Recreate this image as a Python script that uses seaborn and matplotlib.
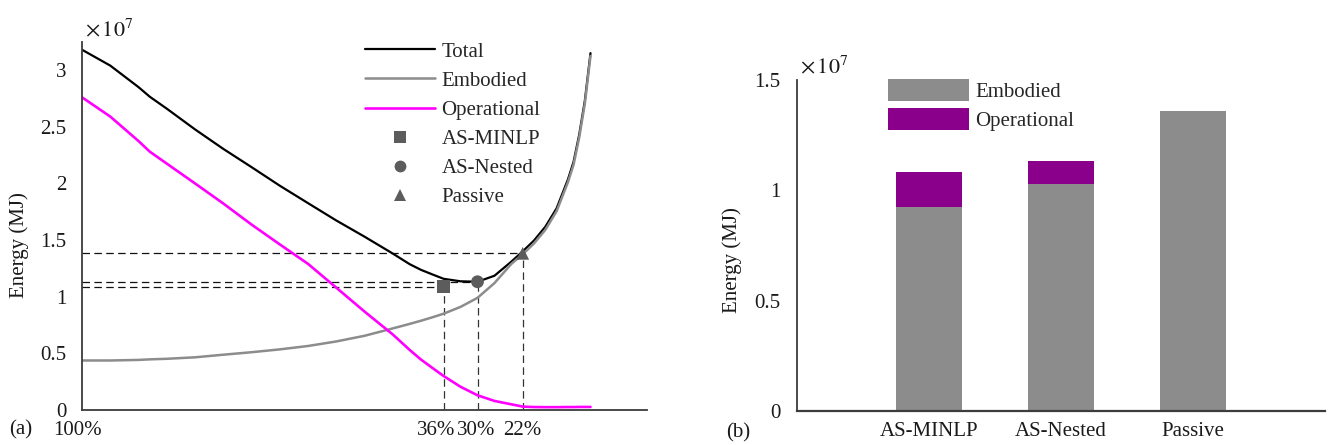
import matplotlib
matplotlib.use("Agg")
import numpy as np
import pandas as pd
import matplotlib.pyplot as plt
import matplotlib.transforms as mtransforms
import seaborn as sns
from matplotlib.lines import Line2D
from matplotlib.patches import Patch
from matplotlib.ticker import FuncFormatter

# ---- data (energy in units of 1e7 MJ) ----
window_pct = [100, 95, 90, 88, 85, 80, 75, 70, 65, 60, 55, 50, 45, 42, 40,
              38, 36, 33, 30, 27, 24, 22, 20, 18, 16, 14, 13, 12, 11, 10]
total_energy = [3.18, 3.04, 2.85, 2.765, 2.66, 2.477, 2.305, 2.144, 1.98,
                1.826, 1.673, 1.53, 1.381, 1.287, 1.237, 1.197, 1.158, 1.136,
                1.132, 1.185, 1.31, 1.40, 1.496, 1.617, 1.78, 2.034, 2.19,
                2.43, 2.73, 3.15]
embodied_energy = [0.437, 0.437, 0.442, 0.447, 0.452, 0.465, 0.488, 0.51,
                   0.535, 0.565, 0.605, 0.655, 0.72, 0.76, 0.788, 0.818, 0.85,
                   0.91, 0.99, 1.12, 1.29, 1.375, 1.47, 1.59, 1.755, 2.01,
                   2.165, 2.405, 2.705, 3.125]
operational_energy = [2.76, 2.59, 2.374, 2.28, 2.175, 2.0, 1.823, 1.637,
                      1.462, 1.29, 1.08, 0.869, 0.667, 0.53, 0.445, 0.372,
                      0.30, 0.205, 0.13, 0.08, 0.05, 0.03, 0.026, 0.025,
                      0.025, 0.026, 0.026, 0.027, 0.027, 0.027]

methods = ["AS-MINLP", "AS-Nested", "Passive"]
method_pct = [36, 30, 22]
method_energy = [1.088, 1.132, 1.383]
method_markers = ["s", "o", "^"]

x_ticks = [100, 36, 30, 22]
x_tick_labels = ["100%", "36%", "30%", "22%"]

bar_embodied = [0.926, 1.027, 1.359]
bar_operational = [0.156, 0.107, 0.0]

# ---- style ----
sns.set_style("white")
plt.rcParams["font.family"] = ["Liberation Serif", "DejaVu Serif"]
plt.rcParams["mathtext.fontset"] = "stix"
FS = 15
TXT = "#1a1a1a"
AXC = "#3c3c3c"
C_TOTAL, C_EMB, C_OP = "black", "#8c8c8c", "#ff00ff"
C_MARK = "#5c5c5c"
C_BAR_EMB, C_BAR_OP = "#8c8c8c", "#8b008b"

W, H = 1328, 445
fig = plt.figure(figsize=(W / 100, H / 100), dpi=100)

fmt = FuncFormatter(lambda v, p: f"{v:g}")


def style_axes(ax, ypad):
    for s in ("top", "right"):
        ax.spines[s].set_visible(False)
    for s in ("left", "bottom"):
        ax.spines[s].set_color(AXC)
        ax.spines[s].set_linewidth(1.3)
    ax.tick_params(axis="both", direction="in", length=4, width=1,
                   color=AXC, labelsize=FS, labelcolor=TXT)
    ax.tick_params(axis="y", pad=ypad)
    ax.tick_params(axis="x", pad=8)
    ax.yaxis.set_major_formatter(fmt)


# ================= (a) energy vs. window ratio =================
ax1 = fig.add_axes([82 / W, 35 / H, 565 / W, 368.2 / H])
curves = pd.DataFrame({"pct": window_pct, "Total": total_energy,
                       "Embodied": embodied_energy,
                       "Operational": operational_energy})
long = curves.melt("pct", var_name="Component", value_name="Energy")
palette = {"Total": C_TOTAL, "Embodied": C_EMB, "Operational": C_OP}
widths = {"Total": 1.6, "Embodied": 1.8, "Operational": 1.9}
for comp in ["Total", "Embodied", "Operational"]:
    sns.lineplot(data=long[long["Component"] == comp], x="pct", y="Energy",
                 color=palette[comp], linewidth=widths[comp], ax=ax1,
                 errorbar=None, legend=False)
for ln in ax1.lines:
    ln.set_solid_joinstyle("round")

# guide lines to each optimum
dash = (0, (6, 3.5))
ax1.hlines(method_energy, 100, method_pct, colors="#111111",
           linewidth=0.9, linestyles=dash, zorder=1)
ax1.vlines(method_pct, 0, method_energy, colors="#333333",
           linewidth=0.9, linestyles=dash, zorder=1)

pts = pd.DataFrame({"pct": method_pct, "Energy": method_energy,
                    "Method": methods})
sns.scatterplot(data=pts, x="pct", y="Energy", style="Method",
                markers=dict(zip(methods, method_markers)), color=C_MARK,
                s=85, edgecolor="none", ax=ax1, legend=False, zorder=5)

ax1.set_xlim(100, 0)
ax1.set_ylim(0, 3.25)
ax1.set_xticks(x_ticks)
ax1.set_xticklabels(x_tick_labels)
ax1.set_yticks(np.arange(0, 3.01, 0.5))
style_axes(ax1, 11)
# small horizontal nudges so the crowded labels sit side by side
for lab, dx in zip(ax1.get_xticklabels(), [-5, -7, -1, 0]):
    lab.set_transform(lab.get_transform() + mtransforms.ScaledTranslation(
        dx / 100, 0, fig.dpi_scale_trans))
ax1.set_xlabel("")
ax1.set_ylabel("Energy (MJ)", fontsize=FS, color=TXT)
ax1.yaxis.set_label_coords(-0.094, 0.448)

handles = [Line2D([], [], color=C_TOTAL, lw=1.6),
           Line2D([], [], color=C_EMB, lw=1.8),
           Line2D([], [], color=C_OP, lw=1.9)]
handles += [Line2D([], [], color=C_MARK, marker=m, linestyle="none",
                   markersize=8.5, markeredgewidth=0)
            for m in method_markers]
ax1.legend(handles, ["Total", "Embodied", "Operational"] + methods,
           loc="upper left", bbox_to_anchor=(365 / W, 1 - 42 / H),
           bbox_transform=fig.transFigure, frameon=False, fontsize=FS,
           borderpad=0, handlelength=3.37, handletextpad=0.3,
           labelspacing=0.46, borderaxespad=0)

fig.text(85 / W, 1 - 36 / H, r"$\times\,10^{7}$", fontsize=FS + 1,
         color=TXT, ha="left", va="baseline")
fig.text(21 / W, 1 - 430 / H, "(a)", fontsize=FS, color=TXT,
         ha="center", va="center")

# ================= (b) stacked bars =================
ax2 = fig.add_axes([797 / W, 34 / H, 528 / W, 331 / H])
bar_total = np.add(bar_embodied, bar_operational)
sns.barplot(x=methods, y=bar_total, color=C_BAR_OP, width=0.5,
            saturation=1, errorbar=None, linewidth=0, ax=ax2)
sns.barplot(x=methods, y=bar_embodied, color=C_BAR_EMB, width=0.5,
            saturation=1, errorbar=None, linewidth=0, ax=ax2)
ax2.set_xlim(-1, 3)
ax2.set_ylim(0, 1.5)
ax2.set_yticks([0, 0.5, 1, 1.5])
style_axes(ax2, 12)
ax2.spines["bottom"].set_linewidth(1.6)
ax2.set_ylabel("Energy (MJ)", fontsize=FS, color=TXT)
ax2.yaxis.set_label_coords(-0.104, 0.456)

ax2.legend([Patch(facecolor=C_BAR_EMB, edgecolor="none"),
            Patch(facecolor=C_BAR_OP, edgecolor="none")],
           ["Embodied", "Operational"], loc="upper left",
           bbox_to_anchor=(888 / W, 1 - 79 / H),
           bbox_transform=fig.transFigure, frameon=False, fontsize=FS,
           borderpad=0, handlelength=3.9, handleheight=1.23,
           handletextpad=0.3, labelspacing=0.3, borderaxespad=0)

fig.text(800 / W, 1 - 73 / H, r"$\times\,10^{7}$", fontsize=FS + 1,
         color=TXT, ha="left", va="baseline")
fig.text(738 / W, 1 - 433 / H, "(b)", fontsize=FS, color=TXT,
         ha="center", va="center")

fig.savefig("out.png", dpi=100)
